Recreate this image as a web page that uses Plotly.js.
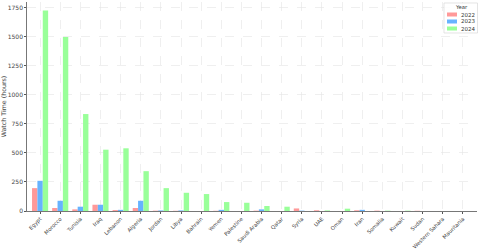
<!DOCTYPE html>
<html><head><meta charset="utf-8">
<script src="https://cdn.plot.ly/plotly-3.0.1.min.js"></script>
<style>body{margin:0;padding:0;background:#fff}#c{width:480px;height:250px}</style>
</head><body><div id="c"></div>
<script>
const countries = ["Egypt","Morocco","Tunisia","Iraq","Lebanon","Algeria","Jordan","Libya","Bahrain","Yemen","Palestine","Saudi Arabia","Qatar","Syria","UAE","Oman","Iran","Somalia","Kuwait","Sudan","Western Sahara","Mauritania"];
const years = ["2022","2023","2024"];
const v2022 = [197,26,14,54,8,26,3,2,0,2,0,3,0,22,6,0,6,3,0,2,0,0];
const v2023 = [260,88,37,54,10,88,5,5,0,10,0,14,0,3,0,0,10,0,0,0,0,0];
const v2024 = [1727,1498,835,528,540,343,197,157,146,77,71,43,37,0,5,20,0,3,3,0,0,0];
const colors = ["#ff9999","#66b3ff","#99ff99"];
const series = [v2022, v2023, v2024];
const traces = series.map((vals, i) => ({
  type: "bar", name: years[i], x: countries, y: vals,
  marker: {color: colors[i]}, hoverinfo: "x+y"
}));

// plot area in pixels
const L = 27, R = 477, T = 2, B = 211;
const px = x => (x - L) / (R - L);
const py = y => (B - y) / (B - T);

// manual legend (matplotlib style)
const shapes = [{
  type: "rect", xref: "paper", yref: "paper",
  x0: px(444), x1: px(477.5), y0: py(3), y1: py(33),
  fillcolor: "rgba(255,255,255,0.85)", line: {color: "#d8d8d8", width: 0.7}
}];
const annotations = [{
  xref: "paper", yref: "paper", x: px(461), y: py(7.5), text: "Year",
  showarrow: false, xanchor: "center", yanchor: "middle",
  font: {family: "DejaVu Sans", size: 5.3, color: "#333"}
}];
years.forEach((yr, i) => {
  const cy = 14.5 + i * 7;
  shapes.push({
    type: "rect", xref: "paper", yref: "paper",
    x0: px(447), x1: px(457), y0: py(cy + 2), y1: py(cy - 2),
    fillcolor: colors[i], line: {width: 0}
  });
  annotations.push({
    xref: "paper", yref: "paper", x: px(459), y: py(cy), text: yr,
    showarrow: false, xanchor: "left", yanchor: "middle",
    font: {family: "DejaVu Sans", size: 5.5, color: "#333"}
  });
});

const layout = {
  width: 480, height: 250,
  margin: {l: L, r: 480 - R, t: T, b: 250 - B},
  paper_bgcolor: "#fff", plot_bgcolor: "#fff",
  barmode: "group", bargap: 0.2, bargroupgap: 0,
  font: {family: "DejaVu Sans", size: 6, color: "#444"},
  showlegend: false,
  shapes: shapes, annotations: annotations,
  xaxis: {
    type: "category", range: [-0.65, 21.7], tickangle: -45,
    showgrid: true, gridcolor: "#e4e4e4", griddash: "dash", gridwidth: 0.6,
    showline: true, linecolor: "#555", linewidth: 0.8,
    ticks: "outside", ticklen: 2, tickcolor: "#555",
    tickfont: {size: 5.3, color: "#444"}
  },
  yaxis: {
    range: [0, 1800], tickvals: [0,250,500,750,1000,1250,1500,1750],
    showgrid: true, gridcolor: "#e4e4e4", griddash: "dash", gridwidth: 0.6,
    showline: true, linecolor: "#555", linewidth: 0.8, zeroline: false,
    ticks: "outside", ticklen: 2, tickcolor: "#555",
    tickfont: {size: 6, color: "#444"},
    title: {text: "Watch Time (hours)", font: {size: 6.3, color: "#444"}, standoff: 3}
  }
};
Plotly.newPlot("c", traces, layout, {displayModeBar: false, staticPlot: true});
</script></body></html>
